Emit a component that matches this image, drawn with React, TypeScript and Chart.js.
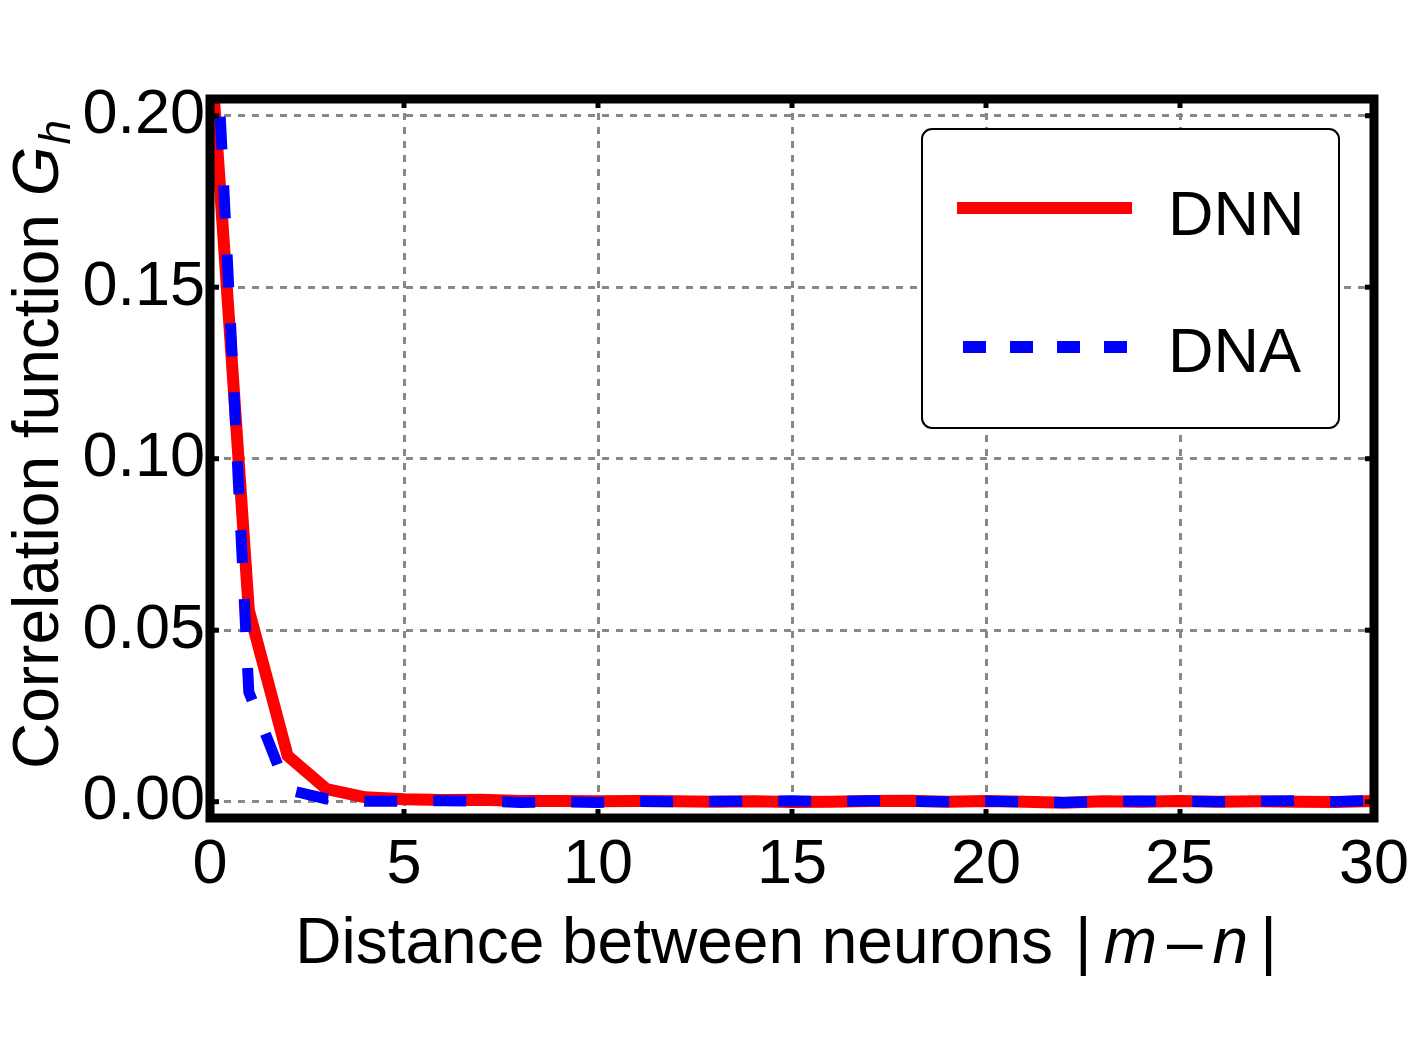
import React, { useEffect, useRef } from "react";
import { Chart, registerables } from "chart.js";

Chart.register(...registerables);

// ---- data ----
const distances = [
  0, 1, 2, 3, 4, 5, 6, 7, 8, 9, 10, 11, 12, 13, 14, 15,
  16, 17, 18, 19, 20, 21, 22, 23, 24, 25, 26, 27, 28, 29, 30,
];
const dnnValues = [
  0.222, 0.0559, 0.0134, 0.0037, 0.0013, 0.0007, 0.0005, 0.0006, 0.0002, 0.0002,
  0.0001, 0.0002, 0.0001, 0.0, 0.0001, -0.0001, 0.0, 0.0002, 0.0003, 0.0,
  0.0002, 0.0, -0.0003, 0.0001, 0.0, 0.0002, 0.0, 0.0001, 0.0, -0.0001, 0.0002,
];
const dnaValues = [
  0.26, 0.032, 0.0035, 0.0008, 0.0001, 0.0001, 0.0003, 0.0002, -0.0002, 0.0,
  -0.0002, 0.0001, 0.0, 0.0001, 0.0001, 0.0003, 0.0, 0.0003, 0.0001, 0.0,
  0.0001, 0.0, -0.0002, 0.0, 0.0002, 0.0001, 0.0, 0.0001, 0.0003, 0.0, 0.0004,
];
const seriesLabels = ["DNN", "DNA"];
const seriesColors = ["#ff0000", "#0000ff"];
const yTickValues = [0, 0.05, 0.1, 0.15, 0.2];
const xTickValues = [0, 5, 10, 15, 20, 25, 30];
const xRange = [0, 30];
const yRange = [-0.00475, 0.20487];
const xTitleParts = [
  { text: "Distance between neurons", italic: false, gap: 0 },
  { text: "|", italic: false, gap: 22 },
  { text: "m", italic: true, gap: 12 },
  { text: "\u2013", italic: false, gap: 10 },
  { text: "n", italic: true, gap: 10 },
  { text: "|", italic: false, gap: 12 },
];
const yTitleMain = "Correlation function ";
const yTitleSymbol = "G";
const yTitleSub = "h";

const FONT = "'Liberation Sans', Arial, Helvetica, sans-serif";
const TICK_SIZE = 63;
const TITLE_SIZE = 64;

const framePlugin = {
  id: "frameAndTicks",
  afterDatasetsDraw(chart: any) {
    const { ctx, chartArea: a, scales } = chart;
    ctx.save();
    ctx.strokeStyle = "#000";
    ctx.lineJoin = "miter";
    ctx.lineWidth = 5;
    const seg = (x1: number, y1: number, x2: number, y2: number) => {
      ctx.beginPath();
      ctx.moveTo(x1, y1);
      ctx.lineTo(x2, y2);
      ctx.stroke();
    };
    yTickValues.forEach((v) => {
      const y = scales.y.getPixelForValue(v);
      seg(a.left, y, a.left + 9, y);
      seg(a.right - 9, y, a.right, y);
    });
    xTickValues.forEach((v) => {
      const x = scales.x.getPixelForValue(v);
      seg(x, a.bottom, x, a.bottom - 9);
      seg(x, a.top, x, a.top + 9);
    });
    ctx.lineWidth = 9;
    ctx.strokeRect(a.left, a.top, a.right - a.left, a.bottom - a.top);
    ctx.restore();
  },
};

const annotatePlugin = {
  id: "titlesAndLegend",
  afterDraw(chart: any) {
    const { ctx, chartArea: a } = chart;
    ctx.save();
    ctx.fillStyle = "#000";
    ctx.textBaseline = "alphabetic";
    ctx.textAlign = "left";

    // x title
    const fontFor = (italic: boolean, size: number) =>
      `${italic ? "italic " : ""}${size}px ${FONT}`;
    let total = 0;
    const widths = xTitleParts.map((p) => {
      ctx.font = fontFor(p.italic, TITLE_SIZE);
      const w = ctx.measureText(p.text).width;
      total += p.gap + w;
      return w;
    });
    const cx = (a.left + a.right) / 2 - 6;
    let x = cx - total / 2;
    const baseX = a.bottom + 145;
    xTitleParts.forEach((p, i) => {
      x += p.gap;
      ctx.font = fontFor(p.italic, TITLE_SIZE);
      ctx.fillText(p.text, x, baseX);
      x += widths[i];
    });

    // y title (rotated)
    ctx.save();
    ctx.translate(58, (a.top + a.bottom) / 2 - 14);
    ctx.rotate(-Math.PI / 2);
    ctx.font = fontFor(false, TITLE_SIZE);
    const w1 = ctx.measureText(yTitleMain).width;
    ctx.font = fontFor(true, TITLE_SIZE);
    const w2 = ctx.measureText(yTitleSymbol).width;
    ctx.font = fontFor(true, 44);
    const w3 = ctx.measureText(yTitleSub).width;
    let yx = -(w1 + w2 + w3 + 2) / 2;
    ctx.font = fontFor(false, TITLE_SIZE);
    ctx.fillText(yTitleMain, yx, 0);
    yx += w1;
    ctx.font = fontFor(true, TITLE_SIZE);
    ctx.fillText(yTitleSymbol, yx, 0);
    yx += w2 + 2;
    ctx.font = fontFor(true, 44);
    ctx.fillText(yTitleSub, yx, 12);
    ctx.restore();

    // legend
    const lx = a.right - 452;
    const ly = a.top + 30;
    const lw = 417;
    const lh = 299;
    ctx.beginPath();
    ctx.roundRect(lx, ly, lw, lh, 10);
    ctx.fillStyle = "#fff";
    ctx.fill();
    ctx.lineWidth = 2;
    ctx.strokeStyle = "#000";
    ctx.stroke();

    ctx.lineCap = "butt";
    ctx.lineWidth = 12;
    ctx.strokeStyle = seriesColors[0];
    ctx.setLineDash([]);
    ctx.beginPath();
    ctx.moveTo(lx + 35, ly + 79);
    ctx.lineTo(lx + 210, ly + 79);
    ctx.stroke();

    ctx.strokeStyle = seriesColors[1];
    ctx.setLineDash([23, 24]);
    ctx.beginPath();
    ctx.moveTo(lx + 41, ly + 218);
    ctx.lineTo(lx + 205, ly + 218);
    ctx.stroke();
    ctx.setLineDash([]);

    ctx.fillStyle = "#000";
    ctx.font = `${TICK_SIZE}px ${FONT}`;
    ctx.fillText(seriesLabels[0], lx + 246, ly + 106);
    ctx.fillText(seriesLabels[1], lx + 246, ly + 243);
    ctx.restore();
  },
};

export default function App() {
  const canvasRef = useRef<HTMLCanvasElement | null>(null);

  useEffect(() => {
    document.body.style.margin = "0";
    const canvas = canvasRef.current;
    if (!canvas) return;
    const chart = new Chart(canvas, {
      type: "line",
      data: {
        datasets: [
          {
            label: seriesLabels[0],
            data: distances.map((d, i) => ({ x: d, y: dnnValues[i] })),
            borderColor: seriesColors[0],
            backgroundColor: seriesColors[0],
            borderWidth: 12,
            pointRadius: 0,
            tension: 0,
            borderJoinStyle: "miter",
            borderCapStyle: "butt",
            clip: 0,
            order: 2,
          },
          {
            label: seriesLabels[1],
            data: distances.map((d, i) => ({ x: d, y: dnaValues[i] })),
            borderColor: seriesColors[1],
            backgroundColor: seriesColors[1],
            borderWidth: 11,
            borderDash: [33, 36],
            pointRadius: 0,
            tension: 0,
            borderJoinStyle: "miter",
            borderCapStyle: "butt",
            clip: 0,
            order: 1,
          },
        ],
      },
      options: {
        animation: false,
        responsive: false,
        devicePixelRatio: 1,
        layout: { padding: { top: 99, right: 38, left: 0, bottom: 0 } },
        plugins: {
          legend: { display: false },
          tooltip: { enabled: false },
        },
        scales: {
          x: {
            type: "linear",
            min: xRange[0],
            max: xRange[1],
            afterBuildTicks: (scale: any) => {
              scale.ticks = xTickValues.map((v) => ({ value: v }));
            },
            afterFit: (scale: any) => {
              scale.height = 241;
              scale.paddingLeft = 0;
              scale.paddingRight = 0;
            },
            ticks: {
              color: "#000",
              font: { family: FONT, size: TICK_SIZE },
              padding: 10,
              maxRotation: 0,
              autoSkip: false,
              callback: (v: any) => String(v),
            },
            grid: {
              color: "#888888",
              lineWidth: 3,
              drawTicks: false,
            },
            border: { display: false, dash: [7, 7] },
          },
          y: {
            type: "linear",
            min: yRange[0],
            max: yRange[1],
            afterBuildTicks: (scale: any) => {
              scale.ticks = yTickValues.map((v) => ({ value: v }));
            },
            afterFit: (scale: any) => {
              scale.width = 210;
              scale.paddingTop = 0;
              scale.paddingBottom = 0;
            },
            ticks: {
              color: "#000",
              font: { family: FONT, size: TICK_SIZE },
              padding: 5,
              autoSkip: false,
              callback: (v: any) => Number(v).toFixed(2),
            },
            grid: {
              color: "#888888",
              lineWidth: 3,
              drawTicks: false,
            },
            border: { display: false, dash: [7, 7] },
          },
        },
      },
      plugins: [framePlugin, annotatePlugin],
    });
    return () => chart.destroy();
  }, []);

  return (
    <div style={{ position: "absolute", left: 0, top: 0, width: 1412, height: 1059, background: "#fff" }}>
      <canvas ref={canvasRef} width={1412} height={1059} style={{ width: 1412, height: 1059 }} />
    </div>
  );
}
